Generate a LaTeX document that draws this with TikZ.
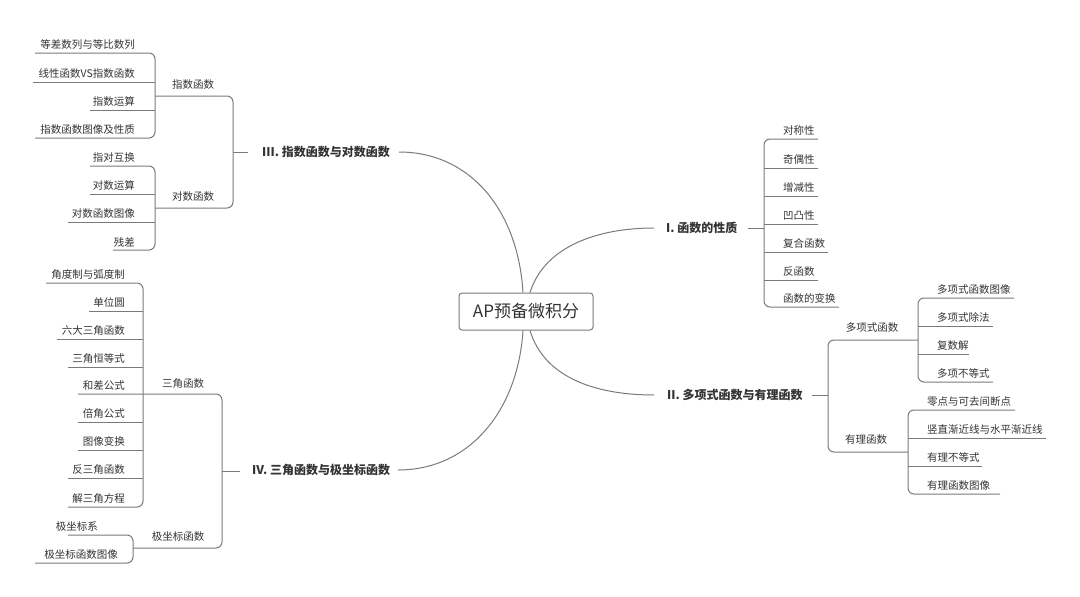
\documentclass[tikz,border=0pt]{standalone}
\usepackage{fontspec}
\setmainfont{Noto Sans CJK SC}
\usetikzlibrary{calc}
\definecolor{ln}{HTML}{7A7A7A}
\definecolor{tx}{HTML}{333333}
\tikzset{
  leaf/.style={font=\fontsize{10.5}{12}\selectfont, text=tx, inner xsep=0pt, inner ysep=3pt},
  topic/.style={font=\fontsize{12}{14}\selectfont\bfseries, text=tx, inner sep=0pt},
  sub/.style={font=\fontsize{10.5}{12}\selectfont, text=tx, inner sep=0pt},
  con/.style={draw=ln, line width=1pt},
  br/.style={con, rounded corners=6pt}
}
% left leaf: name, text, bracket x, line y, line start x
\newcommand{\lfL}[5]{\node[leaf,anchor=south east] (#1) at (#3-20,#4) {#2};
  \coordinate (#1s) at (#5,#4);}
\newcommand{\lfR}[5]{\node[leaf,anchor=south west] (#1) at (#3+19,#4) {#2};
  \coordinate (#1s) at (#5,#4);}
\begin{document}
\begin{tikzpicture}[x=1pt,y=-1pt]
\useasboundingbox (0,0) rectangle (1080,597);
% center
\node[draw=ln, line width=1pt, rounded corners=3pt, minimum width=134pt, minimum height=37pt, text=tx, font=\fontsize{17}{20}\selectfont] (c) at (526,311.5) {AP预备微积分};
% topics
\node[topic,anchor=west] (t3) at (262,152) {III. 指数函数与对数函数};
\node[topic,anchor=west] (t4) at (252,470) {IV. 三角函数与极坐标函数};
\node[topic,anchor=west] (t1) at (666,228) {I. 函数的性质};
\node[topic,anchor=west] (t2) at (667,395) {II. 多项式函数与有理函数};
\coordinate (e3) at (399,152); \coordinate (e4) at (398,470);
\coordinate (e1) at (654,228); \coordinate (e2) at (654,395);
\draw[con] ([xshift=-3pt]c.north) .. controls (518,210) and (470,152) .. (e3);
\draw[con] ([xshift=-3pt]c.south) .. controls (518,410) and (470,470) .. (e4);
\draw[con] ([xshift=4pt]c.north) .. controls (545,245) and (600,228) .. (e1);
\draw[con] ([xshift=4pt]c.south) .. controls (545,380) and (600,395) .. (e2);

% ===== III =====
\node[sub] (s31) at (193,85) {指数函数};
\node[sub] (s32) at (193,197) {对数函数};
\lfL{a1}{等差数列与等比数列}{155}{53}{35}
\lfL{a2}{线性函数VS指数函数}{155}{82}{33}
\lfL{a3}{指数运算}{155}{110}{90}
\lfL{a4}{指数函数图像及性质}{155}{138}{35}
\draw[br] (a1s) -- (155,53) -- (155,138) -- (a4s);
\draw[con] (a2s) -- (155,82); \draw[con] (a3s) -- (155,110);
\lfL{b1}{指对互换}{155}{166}{90}
\lfL{b2}{对数运算}{155}{194}{90}
\lfL{b3}{对数函数图像}{155}{222}{68}
\lfL{b4}{残差}{155}{250}{113}
\draw[br] (b1s) -- (155,166) -- (155,250) -- (b4s);
\draw[con] (b2s) -- (155,194); \draw[con] (b3s) -- (155,222);
\draw[br] (155,96) -- (233,96) -- (233,208) -- (155,208);
\draw[con] (233,152) -- (248,152);

% ===== IV =====
\node[sub] (s41) at (183,384) {三角函数};
\node[sub] (s42) at (178,537) {极坐标函数};
\lfL{c1}{角度制与弧度制}{145}{283}{46}
\lfL{c2}{单位圆}{145}{311}{89}
\lfL{c3}{六大三角函数}{145}{339}{57}
\lfL{c4}{三角恒等式}{145}{367}{68}
\lfL{c5}{和差公式}{145}{394}{78}
\lfL{c6}{倍角公式}{145}{422}{78}
\lfL{c7}{图像变换}{145}{450}{78}
\lfL{c8}{反三角函数}{145}{478}{68}
\lfL{c9}{解三角方程}{145}{507}{68}
\draw[br] (c1s) -- (143,283) -- (143,507) -- (c9s);
\foreach \n/\y in {c2/311,c3/339,c4/367,c6/422,c7/450,c8/478} \draw[con] (\n s) -- (143,\y);
\lfL{d1}{极坐标系}{118}{535}{68}
\node[leaf,anchor=south east] (d2) at (118,563) {极坐标函数图像};
\coordinate (d1s) at (68,535); \coordinate (d2s) at (35,563);
\node[leaf,anchor=south west] at (71,535) {};
\draw[br] (d1s) -- (133,535) -- (133,563) -- (d2s);
\draw[br] (c5s) -- (222,394) -- (222,548) -- (133,548);
\draw[con] (222,471) -- (240,471);

% ===== I =====
\lfR{p1}{对称性}{764}{139}{818}
\lfR{p2}{奇偶性}{764}{168}{818}
\lfR{p3}{增减性}{764}{196}{818}
\lfR{p4}{凹凸性}{764}{224}{818}
\lfR{p5}{复合函数}{764}{252}{828}
\lfR{p6}{反函数}{764}{280}{818}
\lfR{p7}{函数的变换}{764}{307}{839}
\draw[br] (p1s) -- (764,139) -- (764,307) -- (p7s);
\foreach \n/\y in {p2/168,p3/196,p4/224,p5/252,p6/280} \draw[con] (\n s) -- (764,\y);
\draw[con] (748,228) -- (764,228);

% ===== II =====
\node[sub] (s21) at (872,328) {多项式函数};
\node[sub] (s22) at (866,440) {有理函数};
\lfR{q1}{多项式函数图像}{918}{298}{1014}
\lfR{q2}{多项式除法}{918}{326}{993}
\lfR{q3}{复数解}{918}{354}{969}
\lfR{q4}{多项不等式}{918}{382}{993}
\draw[br] (q1s) -- (918,298) -- (918,382) -- (q4s);
\draw[con] (q2s) -- (918,326); \draw[con] (q3s) -- (918,354);
\lfR{r1}{零点与可去间断点}{908}{410}{1015}
\lfR{r2}{竖直渐近线与水平渐近线}{908}{438}{1046}
\lfR{r3}{有理不等式}{908}{466}{982}
\lfR{r4}{有理函数图像}{908}{494}{1000}
\draw[br] (r1s) -- (908,410) -- (908,494) -- (r4s);
\draw[con] (r2s) -- (908,438); \draw[con] (r3s) -- (908,466);
\draw[br] (918,340) -- (828,340) -- (828,452) -- (908,452);
\draw[con] (812,395) -- (828,395);
\end{tikzpicture}
\end{document}
